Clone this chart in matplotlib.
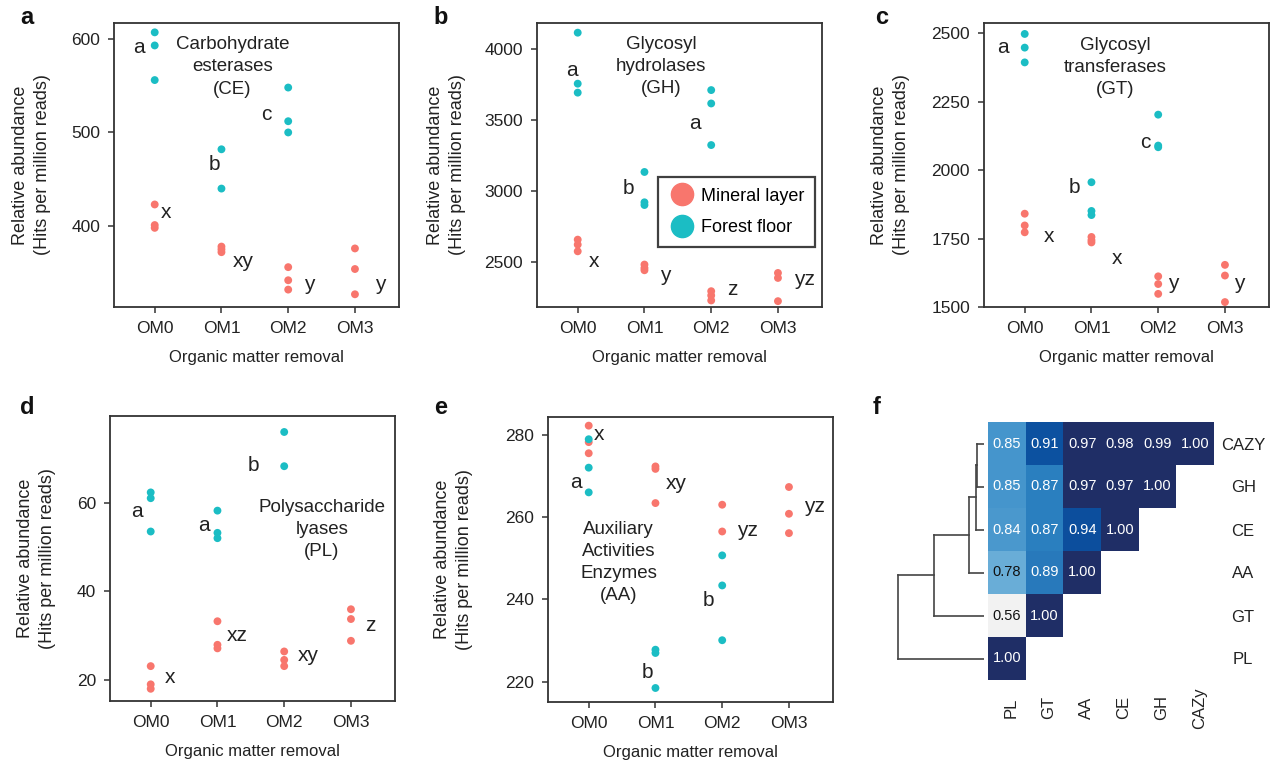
import numpy as np
import matplotlib
matplotlib.use('Agg')
import matplotlib.pyplot as plt
import matplotlib.transforms as mtransforms
from matplotlib.colors import LinearSegmentedColormap
from matplotlib.lines import Line2D

plt.rcParams['font.family'] = ['Liberation Sans', 'DejaVu Sans']

# ---- data ----
groups = ['OM0', 'OM1', 'OM2', 'OM3']

# a: carbohydrate esterases
ce_mineral = [[423, 401, 398], [378, 375, 372], [356, 342, 332], [376, 354, 327]]
ce_forest = [[607, 593, 556], [482, 440], [548, 512, 500]]
ce_forest_letters = ['a', 'b', 'c']
ce_mineral_letters = ['x', 'xy', 'y', 'y']

# b: glycosyl hydrolases
gh_mineral = [[2659, 2624, 2577], [2484, 2460, 2444], [2297, 2267, 2232], [2425, 2390, 2227]]
gh_forest = [[4112, 3754, 3691], [3134, 2921, 2902], [3709, 3615, 3323]]
gh_forest_letters = ['a', 'b', 'a']
gh_mineral_letters = ['x', 'y', 'z', 'yz']

# c: glycosyl transferases
gt_mineral = [[1841, 1798, 1773], [1756, 1744, 1736], [1612, 1584, 1548], [1654, 1615, 1518]]
gt_forest = [[2498, 2448, 2394], [1956, 1851, 1836], [2203, 2090, 2084]]
gt_forest_letters = ['a', 'b', 'c']
gt_mineral_letters = ['x', 'x', 'y', 'y']

# d: polysaccharide lyases
pl_mineral = [[23.2, 19.1, 18.1], [33.3, 28.0, 27.2], [26.5, 24.6, 23.2], [36.0, 33.8, 28.9]]
pl_forest = [[62.3, 61.0, 53.5], [58.2, 53.2, 52.0], [75.9, 68.2]]
pl_forest_letters = ['a', 'a', 'b']
pl_mineral_letters = ['x', 'xz', 'xy', 'z']

# e: auxiliary activities
aa_mineral = [[282.2, 278.2, 275.5], [272.3, 271.7, 263.4], [263.0, 256.5], [267.3, 260.8, 256.1]]
aa_forest = [[278.9, 272.0, 266.0], [227.8, 227.0, 218.5], [250.7, 243.4, 230.1]]
aa_forest_letters = ['a', 'b', 'b']
aa_mineral_letters = ['x', 'xy', 'yz', 'yz']

# f: correlation heatmap (lower triangle) + dendrogram
row_labels = ['CAZY', 'GH', 'CE', 'AA', 'GT', 'PL']
col_labels = ['PL', 'GT', 'AA', 'CE', 'GH', 'CAZy']
corr_rows = [[0.85, 0.91, 0.97, 0.98, 0.99, 1.00],
             [0.85, 0.87, 0.97, 0.97, 1.00],
             [0.84, 0.87, 0.94, 1.00],
             [0.78, 0.89, 1.00],
             [0.56, 1.00],
             [1.00]]
# merges in order (row indices / new node ids), and merge heights
merges = [(0, 1), (6, 2), (7, 3), (8, 4), (9, 5)]
merge_height = [0.067, 0.083, 0.150, 0.503, 0.857]

mineral_col = '#F8766D'
forest_col = '#1BBDC4'
spine_col = '#333333'
txt_col = '#222222'

W, H = 1276, 763
fig = plt.figure(figsize=(W / 100, H / 100), dpi=100)


def add_px_axes(x0, y0, x1, y1):
    return fig.add_axes([x0 / W, 1 - y1 / H, (x1 - x0) / W, (y1 - y0) / H])


def dot_panel(box, mineral, forest, ylim, yticks, title, title_xy,
              f_letters, f_pos, m_letters, m_pos, ylab_x):
    ax = add_px_axes(*box)
    for i, vals in enumerate(mineral):
        ax.scatter(np.full(len(vals), i), vals, s=32, color=mineral_col,
                   edgecolors='none', zorder=3)
    for i, vals in enumerate(forest):
        ax.scatter(np.full(len(vals), i), vals, s=32, color=forest_col,
                   edgecolors='none', zorder=4)
    for lab, (x, y) in zip(f_letters + m_letters, f_pos + m_pos):
        ax.text(x, y, lab, fontsize=15, ha='center', va='center', color=txt_col)
    ax.text(title_xy[0], title_xy[1], title, fontsize=13.5, ha='center',
            va='center', linespacing=1.4, color=txt_col)
    ax.set_xlim(-0.61, 3.66)
    ax.set_ylim(*ylim)
    ax.set_xticks(range(4))
    ax.set_xticklabels(groups)
    ax.set_yticks(yticks)
    for sp in ax.spines.values():
        sp.set_color(spine_col)
        sp.set_linewidth(1.3)
    ax.tick_params(axis='both', labelsize=12.5, length=4, width=1.1,
                   color=spine_col, labelcolor=txt_col, pad=6)
    ax.set_xlabel('Organic matter removal', fontsize=12, color=txt_col)
    ax.xaxis.set_label_coords(0.5, -0.15)
    ax.set_ylabel('Relative abundance\n(Hits per million reads)', fontsize=13,
                  linespacing=1.35, color=txt_col)
    ax.yaxis.set_label_coords(ylab_x, 0.5)
    return ax


dot_panel((114, 23, 399, 307), ce_mineral, ce_forest, (313.4, 617), [400, 500, 600],
          'Carbohydrate\nesterases\n(CE)', (1.165, 570),
          ce_forest_letters, [(-0.235, 591), (0.9, 466), (1.675, 519)],
          ce_mineral_letters, [(0.175, 414), (1.325, 362), (2.315, 337), (3.375, 337)],
          -0.221)

axb = dot_panel((537, 23, 822, 307), gh_mineral, gh_forest, (2186, 4180),
                [2500, 3000, 3500, 4000],
                'Glycosyl\nhydrolases\n(GH)', (1.25, 3875),
                gh_forest_letters, [(-0.09, 3847), (0.76, 3021), (1.75, 3472)],
                gh_mineral_letters, [(0.25, 2507), (1.315, 2406), (2.31, 2312), (3.4, 2378)],
                -0.249)
handles = [Line2D([], [], marker='o', ls='none', markersize=16, color=mineral_col),
           Line2D([], [], marker='o', ls='none', markersize=16, color=forest_col)]
leg = axb.legend(handles, ['Mineral layer', 'Forest floor'], loc='upper left',
                 bbox_to_anchor=(0.425, 0.458), borderaxespad=0, fontsize=13,
                 frameon=True, fancybox=False, handlelength=1.4, handletextpad=0.35,
                 borderpad=0.6, labelspacing=0.8, framealpha=1)
leg.get_frame().set_edgecolor('#404040')
leg.get_frame().set_linewidth(1.6)

dot_panel((984, 23, 1269, 307), gt_mineral, gt_forest, (1500, 2538),
          [1500, 1750, 2000, 2250, 2500],
          'Glycosyl\ntransferases\n(GT)', (1.36, 2375),
          gt_forest_letters, [(-0.33, 2450), (0.745, 1935), (1.8, 2102)],
          gt_mineral_letters, [(0.37, 1756), (1.385, 1677), (2.225, 1586), (3.215, 1586)],
          -0.26)

dot_panel((110, 416, 395, 701), pl_mineral, pl_forest, (15.35, 79.5), [20, 40, 60],
          'Polysaccharide\nlyases\n(PL)', (2.565, 53.9),
          pl_forest_letters, [(-0.21, 58.1), (0.79, 54.9), (1.54, 68.4)],
          pl_mineral_letters, [(0.29, 20.6), (1.3, 30.1), (2.365, 25.7), (3.29, 32.4)],
          -0.19)

dot_panel((548, 417, 833, 702), aa_mineral, aa_forest, (215.1, 284.3),
          [220, 240, 260, 280],
          'Auxiliary\nActivities\nEnzymes\n(AA)', (0.45, 249),
          aa_forest_letters, [(-0.19, 268.3), (0.875, 222.3), (1.8, 239.8)],
          aa_mineral_letters, [(0.16, 280), (1.31, 268.1), (2.375, 256.8), (3.385, 262.5)],
          -0.263)

# ---- f: heatmap ----
n = len(row_labels)
mat = np.full((n, n), np.nan)
for r, vals in enumerate(corr_rows):
    mat[r, :len(vals)] = vals

stops = [(0.56, '#f2f2f2'), (0.78, '#6aaed8'), (0.85, '#4595cc'), (0.87, '#2b80c0'),
         (0.89, '#2a7cbd'), (0.91, '#0d52a0'), (0.94, '#0c50a0'), (0.97, '#1f2f66'),
         (1.00, '#1f2e66')]
vmin, vmax = 0.56, 1.0
cmap = LinearSegmentedColormap.from_list(
    'corr', [((v - vmin) / (vmax - vmin), c) for v, c in stops])
cmap.set_bad((1, 1, 1, 0))

axf = add_px_axes(988, 422, 1214, 680)
axf.imshow(np.ma.masked_invalid(mat), cmap=cmap, vmin=vmin, vmax=vmax,
           aspect='auto', interpolation='nearest', extent=(0, n, n, 0))
for r, vals in enumerate(corr_rows):
    for c, v in enumerate(vals):
        tc = '#111111' if v < 0.8 else 'white'
        axf.text(c + 0.5, r + 0.5, f'{v:.2f}', ha='center', va='center',
                 fontsize=10.5, color=tc)
axf.set_xlim(0, n)
axf.set_ylim(n, 0)
axf.set_xticks(np.arange(n) + 0.5)
axf.set_xticklabels(col_labels, rotation=90, va='center', ha='center')
axf.set_yticks(np.arange(n) + 0.5)
axf.set_yticklabels(row_labels, ha='center')
axf.yaxis.tick_right()
axf.tick_params(axis='y', length=0, pad=21, labelsize=12, labelcolor=txt_col)
axf.tick_params(axis='x', length=0, pad=20, labelsize=12, labelcolor=txt_col)
shift = mtransforms.ScaledTranslation(0.04, 0, fig.dpi_scale_trans)
for lbl in axf.get_xticklabels():
    lbl.set_transform(lbl.get_transform() + shift)
for sp in axf.spines.values():
    sp.set_visible(False)

# ---- f: dendrogram ----
axd = add_px_axes(895, 422, 984, 680)
pos = {i: (i + 0.5, 0.0) for i in range(n)}
for k, ((a, b), h) in enumerate(zip(merges, merge_height)):
    ya, ha_ = pos[a]
    yb, hb = pos[b]
    axd.plot([ha_, h], [ya, ya], color='#444444', lw=1.2)
    axd.plot([hb, h], [yb, yb], color='#444444', lw=1.2)
    axd.plot([h, h], [ya, yb], color='#444444', lw=1.2)
    pos[n + k] = ((ya + yb) / 2, h)
axd.set_xlim(0.89, 0)
axd.set_ylim(n, 0)
axd.axis('off')

# panel letters
for lab, (x, y) in zip('abcdef', [(20, 17), (433, 17), (875, 17),
                                  (20, 407), (434, 407), (873, 407)]):
    fig.text(x / W, 1 - y / H, lab, fontsize=17, fontweight='bold',
             va='center', ha='left', color='#111111')

fig.savefig('out.png', dpi=100)
